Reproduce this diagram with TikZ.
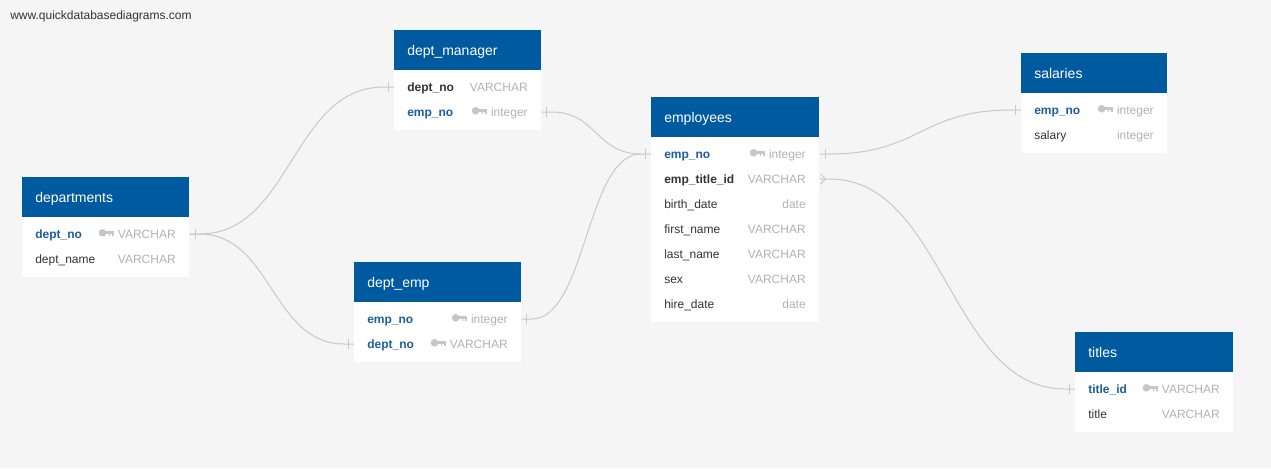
\documentclass[tikz,border=0pt]{standalone}
\usepackage{fontspec}
\setmainfont{Liberation Sans}
\definecolor{bgcol}{RGB}{244,245,244}
\definecolor{hdrblue}{RGB}{0,90,160}
\definecolor{pkblue}{RGB}{28,94,158}
\definecolor{darktext}{RGB}{51,51,51}
\definecolor{typegray}{RGB}{176,178,182}
\definecolor{keygray}{RGB}{196,198,201}
\definecolor{linegray}{RGB}{200,200,200}
\newcommand\ertable[6]{%
  \node[erbody, minimum width=#4*0.75pt, minimum height=#5*0.75pt] (#1) at (#2,#3) {};
  \node[erhdr, minimum width=#4*0.75pt] (#1-h) at (#2,#3) {};
  \node[erttl] (#1-ttl) at (#2+13,#3+25) {#6};}
\newcommand\errow[9]{%
  \coordinate (#1-#2) at (#3,#5);
  \node[#6] (#1-#2-n) at (#3+13,#5+4) {#7};
  \node[ertyp] (#1-#2-t) at (#4-13,#5+4) {#8};
  #9}
\newcommand\erkey[1]{%
  \begin{scope}[shift={(#1.base west)}]
    \fill[keygray] (-15.2,-5.2) circle[radius=2.85pt];
    \fill[keygray] (-13,-6.9) rectangle (-4,-4.0);
    \fill[keygray] (-9,-4.2) rectangle (-7.3,-2.0);
    \fill[keygray] (-5.8,-4.2) rectangle (-4,-2.0);
  \end{scope}}
\newcommand\ertick[2]{\draw[erconn] ([xshift=#2]#1) +(0,-5) -- +(0,5);}
\begin{document}
\begin{tikzpicture}[x=0.75pt,y=-0.75pt,
  erbody/.style={fill=white, draw=none, anchor=north west, inner sep=0pt},
  erhdr/.style={fill=hdrblue, draw=none, anchor=north west, inner sep=0pt, minimum height=30pt},
  erttl/.style={anchor=base west, inner sep=0pt, text=white, font=\fontsize{10.5pt}{12pt}\selectfont},
  ercol/.style={anchor=base west, inner sep=0pt, text=darktext, font=\fontsize{9pt}{11pt}\selectfont},
  erpk/.style={ercol, text=pkblue, font=\fontsize{9pt}{11pt}\selectfont\bfseries},
  erfk/.style={ercol, font=\fontsize{9pt}{11pt}\selectfont\bfseries},
  ertyp/.style={anchor=base east, inner sep=0pt, text=typegray, font=\fontsize{9pt}{11pt}\selectfont},
  erconn/.style={draw=linegray, line width=0.75pt},
  ermark/.style={anchor=base west, inner sep=0pt, text=darktext, font=\fontsize{9pt}{11pt}\selectfont}]
\fill[bgcol] (0,0) rectangle (1271,468);
\useasboundingbox (0,0) rectangle (1271,468);
\node[ermark] (wm) at (10,19.5) {www.quickdatabasediagrams.com};

% departments
\ertable{dep}{22}{177}{167}{100}{departments}
\errow{dep}{no}{22}{189}{234}{erpk}{dept\_no}{VARCHAR}{\erkey{dep-no-t}}
\errow{dep}{name}{22}{189}{259}{ercol}{dept\_name}{VARCHAR}{}

% dept_manager
\ertable{dm}{394}{30}{147}{100}{dept\_manager}
\errow{dm}{dno}{394}{541}{87}{erfk}{dept\_no}{VARCHAR}{}
\errow{dm}{eno}{394}{541}{112}{erpk}{emp\_no}{integer}{\erkey{dm-eno-t}}

% dept_emp
\ertable{de}{354}{262}{167}{100}{dept\_emp}
\errow{de}{eno}{354}{521}{319}{erpk}{emp\_no}{integer}{\erkey{de-eno-t}}
\errow{de}{dno}{354}{521}{344}{erpk}{dept\_no}{VARCHAR}{\erkey{de-dno-t}}

% employees
\ertable{emp}{651}{97}{168}{225}{employees}
\errow{emp}{no}{651}{819}{154}{erpk}{emp\_no}{integer}{\erkey{emp-no-t}}
\errow{emp}{tid}{651}{819}{179}{erfk}{emp\_title\_id}{VARCHAR}{}
\errow{emp}{bd}{651}{819}{204}{ercol}{birth\_date}{date}{}
\errow{emp}{fn}{651}{819}{229}{ercol}{first\_name}{VARCHAR}{}
\errow{emp}{ln}{651}{819}{254}{ercol}{last\_name}{VARCHAR}{}
\errow{emp}{sex}{651}{819}{279}{ercol}{sex}{VARCHAR}{}
\errow{emp}{hd}{651}{819}{304}{ercol}{hire\_date}{date}{}

% salaries
\ertable{sal}{1021}{53}{146}{100}{salaries}
\errow{sal}{no}{1021}{1167}{110}{erpk}{emp\_no}{integer}{\erkey{sal-no-t}}
\errow{sal}{sal}{1021}{1167}{135}{ercol}{salary}{integer}{}

% titles
\ertable{tit}{1075}{332}{158}{100}{titles}
\errow{tit}{id}{1075}{1233}{389}{erpk}{title\_id}{VARCHAR}{\erkey{tit-id-t}}
\errow{tit}{t}{1075}{1233}{414}{ercol}{title}{VARCHAR}{}

% connection points
\coordinate (c1a) at (dep.east |- dep-no);
\coordinate (c1b) at (dm.west |- dm-dno);
\coordinate (c2b) at (de.west |- de-dno);
\coordinate (c3a) at (dm.east |- dm-eno);
\coordinate (c3b) at (emp.west |- emp-no);
\coordinate (c4a) at (de.east |- de-eno);
\coordinate (c5a) at (emp.east |- emp-no);
\coordinate (c5b) at (sal.west |- sal-no);
\coordinate (c6a) at (emp.east |- emp-tid);
\coordinate (c6b) at (tit.west |- tit-id);

\draw[erconn] (c1a) -- ++(10,0) .. controls +(92,0) and +(-92,0) .. ([xshift=-7.5pt]c1b) -- (c1b);
\draw[erconn] (c1a) -- ++(10,0) .. controls +(72,0) and +(-72,0) .. ([xshift=-7.5pt]c2b) -- (c2b);
\draw[erconn] (c3a) -- ++(10,0) .. controls +(45,0) and +(-45,0) .. ([xshift=-7.5pt]c3b) -- (c3b);
\draw[erconn] (c4a) -- ++(10,0) .. controls +(55,0) and +(-55,0) .. ([xshift=-7.5pt]c3b);
\draw[erconn] (c5a) -- ++(10,0) .. controls +(90,0) and +(-90,0) .. ([xshift=-7.5pt]c5b) -- (c5b);
\draw[erconn] (c6a) -- ++(10,0) .. controls +(115,0) and +(-115,0) .. ([xshift=-7.5pt]c6b) -- (c6b);

\ertick{c1a}{4.5pt}
\ertick{c1b}{-4.5pt}
\ertick{c2b}{-4.5pt}
\ertick{c3a}{4pt}
\ertick{c3b}{-4.5pt}
\ertick{c4a}{4pt}
\ertick{c5a}{4.5pt}
\ertick{c5b}{-4.5pt}
\ertick{c6b}{-4.5pt}
\draw[erconn] (c6a) +(1,-5) -- +(6,0) -- +(1,5);
\end{tikzpicture}
\end{document}
